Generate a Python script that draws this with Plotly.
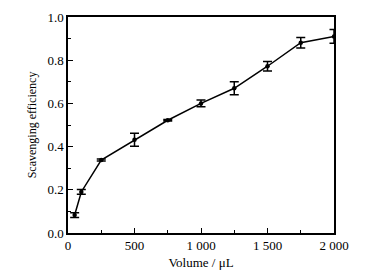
import plotly.graph_objects as go

# Data
volume = [50, 100, 250, 500, 750, 1000, 1250, 1500, 1750, 2000]
efficiency = [0.083, 0.19, 0.338, 0.432, 0.522, 0.600, 0.670, 0.772, 0.881, 0.910]
error = [0.011, 0.011, 0.005, 0.030, 0.003, 0.016, 0.030, 0.022, 0.024, 0.032]

x_tickvals = [0, 500, 1000, 1500, 2000]
x_ticktext = ["0", "500", "1 000", "1 500", "2 000"]
y_tickvals = [0.0, 0.2, 0.4, 0.6, 0.8, 1.0]
y_ticktext = ["0.0", "0.2", "0.4", "0.6", "0.8", "1.0"]

fig = go.Figure()

fig.add_trace(go.Scatter(
    x=volume,
    y=efficiency,
    mode="lines+markers",
    line=dict(color="black", width=1.5),
    marker=dict(color="black", size=4.5),
    error_y=dict(type="data", array=error, visible=True,
                 color="black", thickness=1.5, width=4.5),
    showlegend=False,
))

font = "Liberation Serif, Times New Roman, serif"

fig.update_layout(
    width=378,
    height=278,
    margin=dict(l=68, r=44, t=17, b=45),
    plot_bgcolor="white",
    paper_bgcolor="white",
    font=dict(family=font, color="black", size=13),
    xaxis=dict(
        range=[0, 2000],
        tickvals=x_tickvals,
        ticktext=x_ticktext,
        ticks="inside",
        ticklen=5,
        tickwidth=1,
        tickcolor="black",
        minor=dict(ticks="inside", dtick=250, ticklen=3, tickcolor="black"),
        showline=True,
        linecolor="black",
        linewidth=1.5,
        mirror=True,
        showgrid=False,
        zeroline=False,
        automargin=False,
        title=dict(text="Volume / μL", font=dict(size=13), standoff=6),
    ),
    yaxis=dict(
        range=[0, 1.0],
        tickvals=y_tickvals,
        ticktext=y_ticktext,
        ticks="inside",
        ticklen=5,
        tickwidth=1,
        tickcolor="black",
        minor=dict(ticks="inside", dtick=0.1, ticklen=3, tickcolor="black"),
        showline=True,
        linecolor="black",
        linewidth=1.5,
        mirror=True,
        showgrid=False,
        zeroline=False,
        automargin=False,
        title=dict(text="Scavenging efficiency", font=dict(size=12), standoff=8),
    ),
)

# drop the default page margin so the figure sits at the window origin
fig.write_html("out.html", config={"displayModeBar": False},
               post_script="document.body.style.margin='0';")
